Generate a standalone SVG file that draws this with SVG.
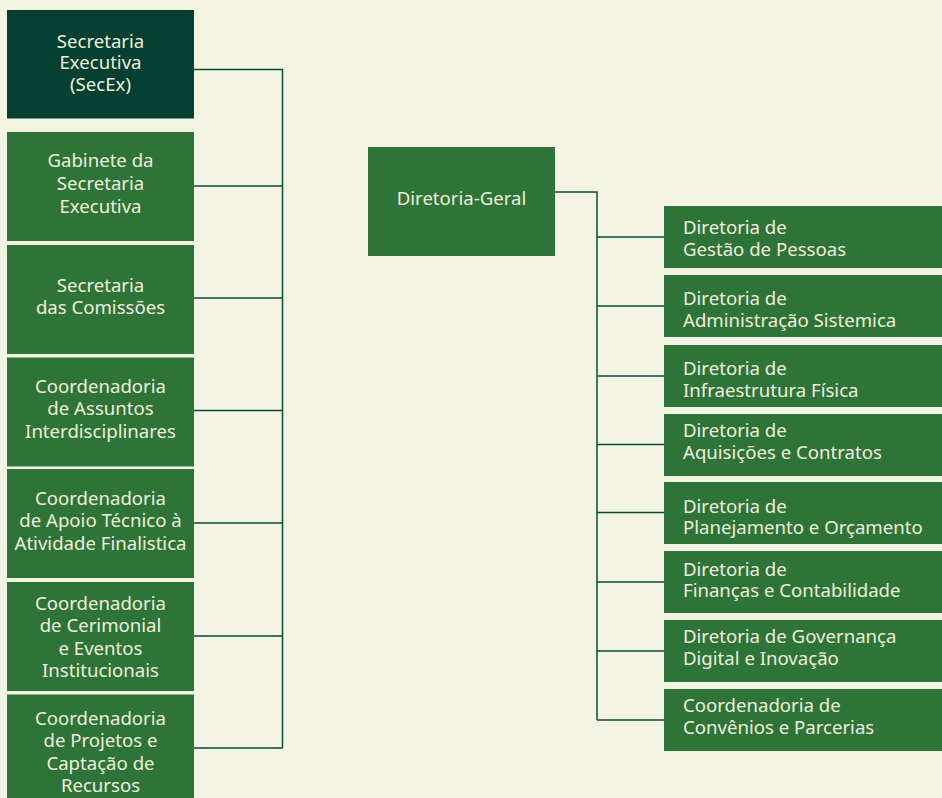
<svg xmlns="http://www.w3.org/2000/svg" width="942" height="798" viewBox="0 0 942 798">
<style>
.bg{fill:#f3f4e2}
.dark{fill:#034032}
.box{fill:#2e7439}
.t{font-family:"Noto Sans","Open Sans","DejaVu Sans",sans-serif;font-size:18.6px;fill:#eef0dc}
.c{text-anchor:middle}
.conn{fill:none;stroke:#0b4a3a;stroke-width:1.5}
</style>
<rect class="bg" x="0" y="0" width="942" height="798"/>
<g id="connectors">
<path class="conn" d="M194 69.5H282.5V748M194 186H282.5M194 298H282.5M194 410.5H282.5M194 523H282.5M194 636H282.5M194 748H282.5"/>
<path class="conn" d="M555 192H597V720M597 237H664M597 306H664M597 376H664M597 444.5H664M597 512.5H664M597 582H664M597 651H664M597 720H664"/>
</g>
<g id="secex">
<rect class="dark" x="7" y="10" width="187" height="108.5"/>
<text class="t c" x="100.5" y="48">Secretaria</text>
<text class="t c" x="100.5" y="69">Executiva</text>
<text class="t c" x="100.5" y="91">(SecEx)</text>
</g>
<g id="gabinete">
<rect class="box" x="7" y="132" width="187" height="109"/>
<text class="t c" x="100.5" y="167">Gabinete da</text>
<text class="t c" x="100.5" y="190">Secretaria</text>
<text class="t c" x="100.5" y="213">Executiva</text>
</g>
<g id="comissoes">
<rect class="box" x="7" y="245" width="187" height="109"/>
<text class="t c" x="100.5" y="292">Secretaria</text>
<text class="t c" x="100.5" y="314">das Comissões</text>
</g>
<g id="assuntos">
<rect class="box" x="7" y="357.5" width="187" height="109"/>
<text class="t c" x="100.5" y="393">Coordenadoria</text>
<text class="t c" x="100.5" y="415">de Assuntos</text>
<text class="t c" x="100.5" y="438">Interdisciplinares</text>
</g>
<g id="apoio">
<rect class="box" x="7" y="469" width="187" height="109"/>
<text class="t c" x="100.5" y="505">Coordenadoria</text>
<text class="t c" x="100.5" y="527">de Apoio Técnico à</text>
<text class="t c" x="100.5" y="550">Atividade Finalistica</text>
</g>
<g id="cerimonial">
<rect class="box" x="7" y="582" width="187" height="109"/>
<text class="t c" x="100.5" y="610">Coordenadoria</text>
<text class="t c" x="100.5" y="632">de Cerimonial</text>
<text class="t c" x="100.5" y="655">e Eventos</text>
<text class="t c" x="100.5" y="677">Institucionais</text>
</g>
<g id="projetos">
<rect class="box" x="7" y="694.5" width="187" height="110"/>
<text class="t c" x="100.5" y="725">Coordenadoria</text>
<text class="t c" x="100.5" y="747">de Projetos e</text>
<text class="t c" x="100.5" y="770">Captação de</text>
<text class="t c" x="100.5" y="792">Recursos</text>
</g>
<g id="diretoria-geral">
<rect class="box" x="368" y="147" width="187" height="109"/>
<text class="t c" x="461.5" y="205">Diretoria-Geral</text>
</g>
<g id="gestao-pessoas">
<rect class="box" x="664" y="206" width="278" height="62"/>
<text class="t" x="683" y="234">Diretoria de</text>
<text class="t" x="683" y="256">Gestão de Pessoas</text>
</g>
<g id="administracao">
<rect class="box" x="664" y="275" width="278" height="62"/>
<text class="t" x="683" y="305">Diretoria de</text>
<text class="t" x="683" y="327">Administração Sistemica</text>
</g>
<g id="infraestrutura">
<rect class="box" x="664" y="345" width="278" height="62"/>
<text class="t" x="683" y="375">Diretoria de</text>
<text class="t" x="683" y="397">Infraestrutura Física</text>
</g>
<g id="aquisicoes">
<rect class="box" x="664" y="414" width="278" height="62"/>
<text class="t" x="683" y="437">Diretoria de</text>
<text class="t" x="683" y="459">Aquisições e Contratos</text>
</g>
<g id="planejamento">
<rect class="box" x="664" y="482" width="278" height="62"/>
<text class="t" x="683" y="513">Diretoria de</text>
<text class="t" x="683" y="534">Planejamento e Orçamento</text>
</g>
<g id="financas">
<rect class="box" x="664" y="551" width="278" height="62"/>
<text class="t" x="683" y="576">Diretoria de</text>
<text class="t" x="683" y="597">Finanças e Contabilidade</text>
</g>
<g id="governanca">
<rect class="box" x="664" y="620" width="278" height="62"/>
<text class="t" x="683" y="643">Diretoria de Governança</text>
<text class="t" x="683" y="665">Digital e Inovação</text>
</g>
<g id="convenios">
<rect class="box" x="664" y="689" width="278" height="62"/>
<text class="t" x="683" y="712">Coordenadoria de</text>
<text class="t" x="683" y="734">Convênios e Parcerias</text>
</g>
</svg>
